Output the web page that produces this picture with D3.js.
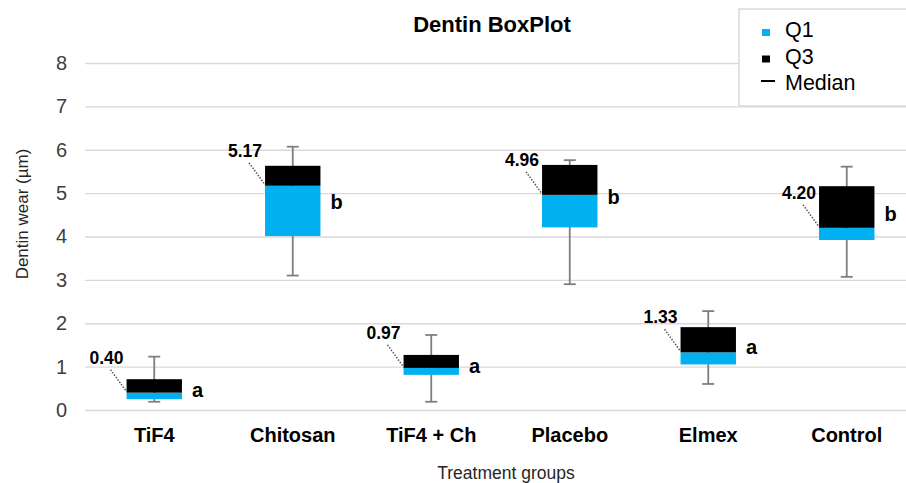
<!DOCTYPE html>
<html>
<head>
<meta charset="utf-8">
<script src="https://cdn.jsdelivr.net/npm/d3@7"></script>
<style>
	body { margin: 0; background: #fff; }
	svg { display: block; font-family: "Liberation Sans", Arial, sans-serif; }
</style>
</head>
<body>
<script>
	// Data
	let categories = ['TiF4', 'Chitosan', 'TiF4 + Ch', 'Placebo', 'Elmex', 'Control'];
	let mins    = [0.19, 3.10, 0.19, 2.90, 0.60, 3.07];
	let q1s     = [0.25, 4.01, 0.81, 4.21, 1.05, 3.92];
	let medians = [0.40, 5.17, 0.97, 4.96, 1.33, 4.20];
	let q3s     = [0.71, 5.63, 1.27, 5.65, 1.91, 5.16];
	let maxs    = [1.23, 6.07, 1.73, 5.76, 2.28, 5.61];
	let letters = ['a', 'b', 'a', 'b', 'a', 'b'];
	let yTicks  = [0, 1, 2, 3, 4, 5, 6, 7, 8];
	let legendItems = ['Q1', 'Q3', 'Median'];

	let width = 906, height = 483,
		blue = '#00b0f0',
		grid = '#d9d9d9',
		whiskerColor = '#7f7f7f';

	let rows = categories.map((c, i) => ({
		cat: c, min: mins[i], q1: q1s[i], med: medians[i], q3: q3s[i], max: maxs[i], letter: letters[i]
	}));

	let svg = d3.select('body').append('svg')
		.attr('width', width)
		.attr('height', height);

	// Scales
	let x = d3.scaleBand()
		.domain(categories)
		.range([85, 916])
		.paddingInner(0.6)
		.paddingOuter(0.3);
	let y = d3.scaleLinear()
		.domain([0, 8])
		.range([410, 63]);

	// Gridlines + tick labels
	let yAxis = d3.axisLeft(y)
		.tickValues(yTicks)
		.tickSize(-(916 - 85))
		.tickPadding(18)
		.tickFormat(d3.format('d'));
	let yg = svg.append('g')
		.attr('transform', 'translate(85,0)')
		.call(yAxis);
	yg.select('.domain').remove();
	yg.selectAll('.tick line')
		.attr('stroke', grid)
		.attr('stroke-width', 1.3);
	yg.selectAll('.tick text')
		.attr('fill', '#404040')
		.attr('font-size', 20)
		.attr('font-family', '"Liberation Sans", Arial, sans-serif');

	// Category labels
	let xAxis = d3.axisBottom(x).tickSize(0).tickPadding(0);
	let xg = svg.append('g')
		.attr('transform', 'translate(0,410)')
		.call(xAxis);
	xg.select('.domain').remove();
	xg.selectAll('.tick text')
		.attr('dy', null)
		.attr('y', 32)
		.attr('fill', '#000')
		.attr('font-size', 20)
		.attr('font-weight', 'bold')
		.attr('font-family', '"Liberation Sans", Arial, sans-serif');

	// Boxes
	let groups = svg.append('g')
		.selectAll('g')
		.data(rows).enter()
			.append('g');

	let center = d => x(d.cat) + x.bandwidth() / 2,
		capHalf = 6;

	// Whiskers behind the boxes
	groups.append('line')
		.attr('x1', center).attr('x2', center)
		.attr('y1', d => y(d.max)).attr('y2', d => y(d.min))
		.attr('stroke', whiskerColor).attr('stroke-width', 1.8);
	groups.append('line')
		.attr('x1', d => center(d) - capHalf).attr('x2', d => center(d) + capHalf)
		.attr('y1', d => y(d.max)).attr('y2', d => y(d.max))
		.attr('stroke', whiskerColor).attr('stroke-width', 1.8);
	groups.append('line')
		.attr('x1', d => center(d) - capHalf).attr('x2', d => center(d) + capHalf)
		.attr('y1', d => y(d.min)).attr('y2', d => y(d.min))
		.attr('stroke', whiskerColor).attr('stroke-width', 1.8);

	// Q1 -> median (blue), median -> Q3 (black)
	groups.append('rect')
		.attr('x', d => x(d.cat))
		.attr('width', x.bandwidth())
		.attr('y', d => y(d.med))
		.attr('height', d => y(d.q1) - y(d.med))
		.attr('fill', blue);
	groups.append('rect')
		.attr('x', d => x(d.cat))
		.attr('width', x.bandwidth())
		.attr('y', d => y(d.q3))
		.attr('height', d => y(d.med) - y(d.q3))
		.attr('fill', '#000');

	// Median labels with dotted leader
	groups.append('line')
		.attr('x1', d => x(d.cat) - 16).attr('y1', d => y(d.med) - 23)
		.attr('x2', d => x(d.cat)).attr('y2', d => y(d.med) - 1)
		.attr('stroke', '#595959')
		.attr('stroke-width', 1.5)
		.attr('stroke-dasharray', '1.5,1.5');
	groups.append('text')
		.attr('x', d => x(d.cat) - 3)
		.attr('y', d => y(d.med) - 29)
		.attr('text-anchor', 'end')
		.attr('font-size', 17.5)
		.attr('font-weight', 'bold')
		.text(d => d.med.toFixed(2));

	// Significance letters
	groups.append('text')
		.attr('x', d => x(d.cat) + x.bandwidth() + 10)
		.attr('y', d => (y(d.q1) + y(d.q3)) / 2 + 8)
		.attr('font-size', 20)
		.attr('font-weight', 'bold')
		.text(d => d.letter);

	// Titles
	svg.append('text')
		.attr('x', 492).attr('y', 32)
		.attr('text-anchor', 'middle')
		.attr('font-size', 22)
		.attr('font-weight', 'bold')
		.text('Dentin BoxPlot');
	svg.append('text')
		.attr('x', 506).attr('y', 479)
		.attr('text-anchor', 'middle')
		.attr('font-size', 17.5)
		.attr('fill', '#262626')
		.text('Treatment groups');
	svg.append('text')
		.attr('transform', 'translate(28,214) rotate(-90)')
		.attr('text-anchor', 'middle')
		.attr('font-size', 17)
		.attr('fill', '#262626')
		.text('Dentin wear (µm)');

	// Legend
	let legend = svg.append('g');
	legend.append('rect')
		.attr('x', 739).attr('y', 9)
		.attr('width', 200).attr('height', 97)
		.attr('fill', '#fff')
		.attr('stroke', grid)
		.attr('stroke-width', 1.5);
	let li = legend.selectAll('.item')
		.data(legendItems).enter()
			.append('g')
			.attr('class', 'item')
			.attr('transform', (d, i) => 'translate(0,' + (37 + i * 26.5) + ')');
	li.filter(d => d !== 'Median')
		.append('rect')
		.attr('x', 762).attr('y', -8)
		.attr('width', 8).attr('height', 7)
		.attr('fill', d => d === 'Q1' ? blue : '#000');
	li.filter(d => d === 'Median')
		.append('line')
		.attr('x1', 761).attr('x2', 775)
		.attr('y1', -9).attr('y2', -9)
		.attr('stroke', '#000').attr('stroke-width', 2);
	li.append('text')
		.attr('x', 785)
		.attr('font-size', 21.5)
		.text(d => d);
</script>
</body>
</html>
